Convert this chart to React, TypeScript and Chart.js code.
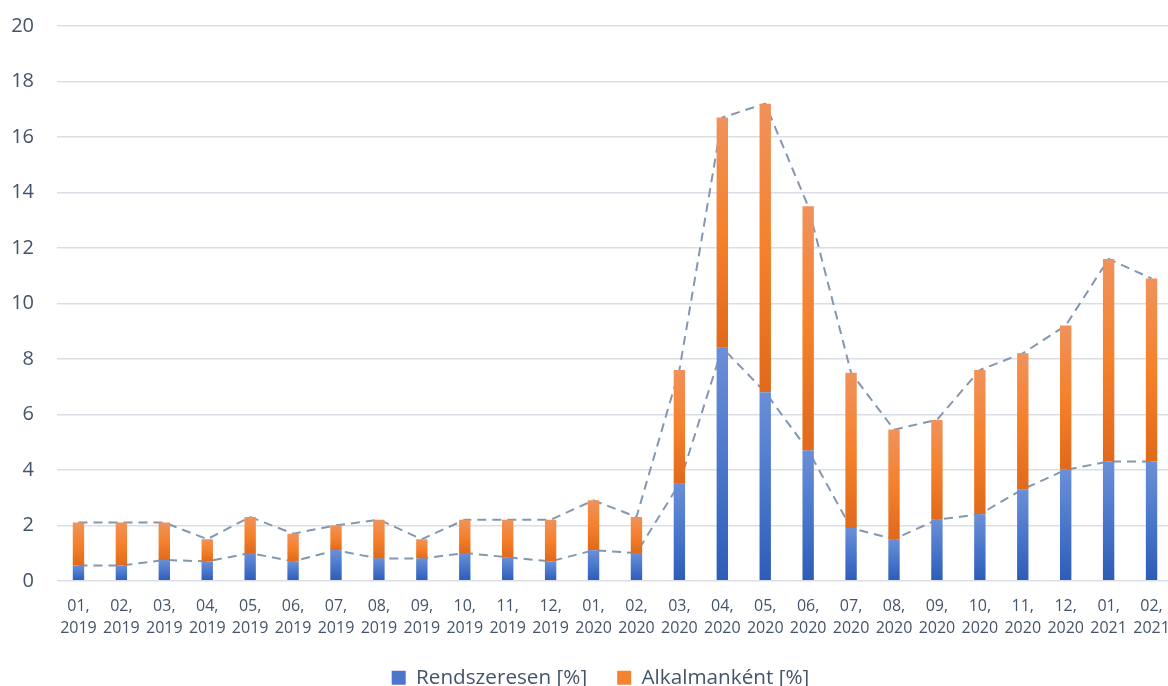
import React, { useEffect, useRef } from "react";
import { Chart, registerables } from "chart.js";

Chart.register(...registerables);

// Month labels (month, year on two lines)
const months: string[][] = [
  ["01,", "2019"], ["02,", "2019"], ["03,", "2019"], ["04,", "2019"], ["05,", "2019"], ["06,", "2019"],
  ["07,", "2019"], ["08,", "2019"], ["09,", "2019"], ["10,", "2019"], ["11,", "2019"], ["12,", "2019"],
  ["01,", "2020"], ["02,", "2020"], ["03,", "2020"], ["04,", "2020"], ["05,", "2020"], ["06,", "2020"],
  ["07,", "2020"], ["08,", "2020"], ["09,", "2020"], ["10,", "2020"], ["11,", "2020"], ["12,", "2020"],
  ["01,", "2021"], ["02,", "2021"],
];

// Share of regular users [%]
const rendszeresen: number[] = [
  0.55, 0.55, 0.75, 0.7, 1.0, 0.7, 1.1, 0.8, 0.8, 1.0, 0.85, 0.7,
  1.1, 1.0, 3.5, 8.4, 6.8, 4.7, 1.9, 1.5, 2.2, 2.4, 3.3, 4.0,
  4.3, 4.3,
];

// Share of occasional users [%]
const alkalmankent: number[] = [
  1.55, 1.55, 1.35, 0.8, 1.3, 1.0, 0.9, 1.4, 0.7, 1.2, 1.35, 1.5,
  1.8, 1.3, 4.1, 8.3, 10.4, 8.8, 5.6, 3.95, 3.6, 5.2, 4.9, 5.2,
  7.3, 6.6,
];

const yTicks: number[] = [0, 2, 4, 6, 8, 10, 12, 14, 16, 18, 20];

const TEXT = "#44546a";
const FONT = "'Open Sans', sans-serif";

const blueStops = ["#6b8fd7", "#4a77cb", "#2d5cb7"];
const orangeStops = ["#f0925b", "#f5812c", "#e0691b"];

function segmentGradient(ctx: any, stops: string[], base: number[] | null, values: number[], fallback: string) {
  const chart = ctx.chart;
  if (!chart.chartArea || ctx.type !== "data") return fallback;
  const y = chart.scales.y;
  const i = ctx.dataIndex;
  const lo = base ? base[i] : 0;
  const hi = lo + values[i];
  const top = y.getPixelForValue(hi);
  const bottom = y.getPixelForValue(lo);
  if (!isFinite(top) || !isFinite(bottom) || top === bottom) return fallback;
  const g = chart.ctx.createLinearGradient(0, top, 0, bottom);
  g.addColorStop(0, stops[0]);
  g.addColorStop(0.5, stops[1]);
  g.addColorStop(1, stops[2]);
  return g;
}

// Centres the legend row a little to the right of the canvas centre
const legendOffset = {
  id: "legendOffset",
  afterLayout(chart: any) {
    const l = chart.legend;
    if (l) {
      l.left += 14;
      l.right += 14;
    }
  },
};

export default function App() {
  const canvasRef = useRef<HTMLCanvasElement | null>(null);

  useEffect(() => {
    if (!canvasRef.current) return;
    const totals = rendszeresen.map((v, i) => v + alkalmankent[i]);

    const chart = new Chart(canvasRef.current, {
      type: "bar",
      data: {
        labels: months,
        datasets: [
          {
            type: "bar",
            label: "Rendszeresen [%]",
            data: rendszeresen,
            stack: "bars",
            order: 1,
            backgroundColor: (c: any) => segmentGradient(c, blueStops, null, rendszeresen, "#4472c4"),
            barPercentage: 0.265,
            categoryPercentage: 1,
          },
          {
            type: "bar",
            label: "Alkalmanként [%]",
            data: alkalmankent,
            stack: "bars",
            order: 1,
            backgroundColor: (c: any) => segmentGradient(c, orangeStops, rendszeresen, alkalmankent, "#ed7d31"),
            barPercentage: 0.265,
            categoryPercentage: 1,
          },
          {
            type: "line",
            label: "total-line",
            data: totals,
            stack: "lineTotal",
            order: 10,
            borderColor: "#8497b0",
            borderWidth: 2,
            borderDash: [9, 6],
            pointRadius: 0,
            fill: false,
            tension: 0,
          },
          {
            type: "line",
            label: "regular-line",
            data: rendszeresen,
            stack: "lineRegular",
            order: 10,
            borderColor: "#8497b0",
            borderWidth: 2,
            borderDash: [9, 6],
            pointRadius: 0,
            fill: false,
            tension: 0,
          },
        ] as any,
      },
      plugins: [legendOffset],
      options: {
        animation: false,
        responsive: false,
        maintainAspectRatio: false,
        layout: { padding: { top: 26, left: 0, right: 0, bottom: 0 } },
        plugins: {
          tooltip: { enabled: false },
          legend: {
            position: "bottom",
            labels: {
              filter: (item: any) => item.datasetIndex < 2,
              generateLabels: (ch: any) =>
                ch.data.datasets.slice(0, 2).map((ds: any, i: number) => ({
                  text: ds.label,
                  fillStyle: i === 0 ? "#4a77cb" : "#f2832f",
                  strokeStyle: "transparent",
                  lineWidth: 0,
                  hidden: false,
                  datasetIndex: i,
                  fontColor: TEXT,
                })),
              boxWidth: 14,
              boxHeight: 14,
              padding: 30,
              color: TEXT,
              font: { family: FONT, size: 20.7 },
            },
          },
        },
        scales: {
          x: {
            stacked: true,
            grid: { display: false, drawTicks: false },
            border: { display: false },
            ticks: {
              color: TEXT,
              font: { family: FONT, size: 16, lineHeight: 1.4 },
              padding: 14,
              maxRotation: 0,
              autoSkip: false,
            },
            afterFit: (s: any) => {
              s.height = 56.5;
              s.paddingLeft = 0;
              s.paddingRight = 0;
            },
          },
          y: {
            stacked: true,
            min: 0,
            max: 20,
            afterBuildTicks: (s: any) => {
              s.ticks = yTicks.map((v) => ({ value: v }));
            },
            grid: { color: "#dbdfe5", lineWidth: 1.5, drawTicks: false },
            border: { display: false },
            ticks: {
              color: TEXT,
              font: { family: FONT, size: 20 },
              padding: 23,
            },
            afterFit: (s: any) => {
              s.width = 57;
              s.paddingTop = 0;
              s.paddingBottom = 0;
            },
          },
        } as any,
      },
    });
    return () => chart.destroy();
  }, []);

  return (
    <div
      style={{
        position: "fixed",
        left: 0,
        top: 0,
        width: 1168,
        height: 686,
        overflow: "hidden",
        background: "#ffffff",
      }}
    >
      <canvas ref={canvasRef} width={1173} height={698} style={{ display: "block" }} />
    </div>
  );
}
